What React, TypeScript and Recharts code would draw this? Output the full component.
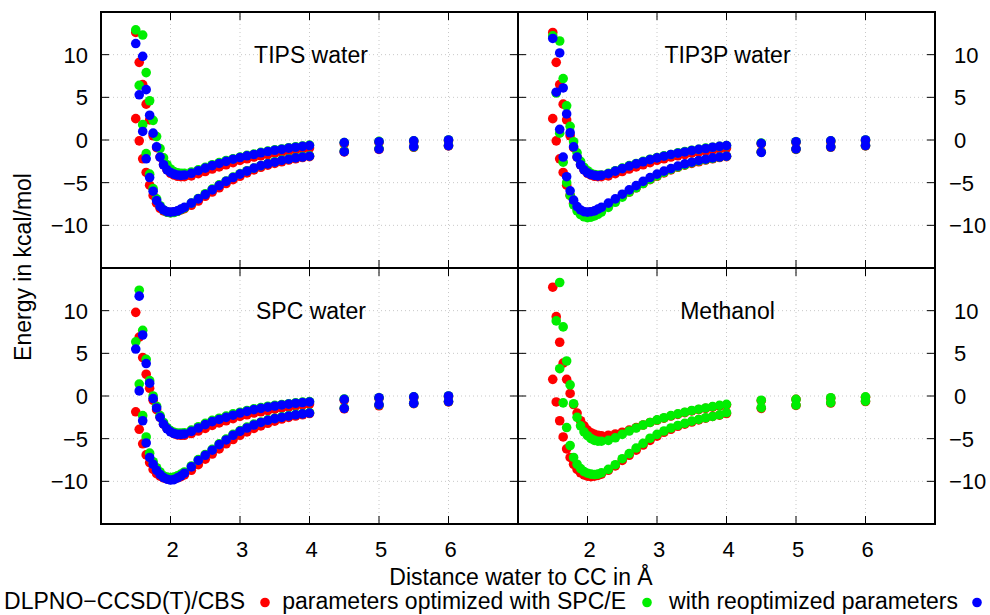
import React from 'react';
import { ScatterChart, Scatter, XAxis, YAxis, CartesianGrid, ReferenceArea } from 'recharts';

const FONT = '"Liberation Sans", Arial, Helvetica, sans-serif';
const RED = '#ff0000';
const GREEN = '#00ee00';
const BLUE = '#0000ff';

const X_TICKS = [2, 3, 4, 5, 6];
const Y_TICKS = [-10, -5, 0, 5, 10];

const LEGEND_LABELS = [
  'DLPNO\u2212CCSD(T)/CBS',
  'parameters optimized with SPC/E',
  'with reoptimized parameters',
];

// distance water to CC (Angstrom)
const DIST = [1.5, 1.55, 1.6, 1.65, 1.7, 1.75, 1.8, 1.85, 1.9, 1.95, 2.0, 2.05, 2.1, 2.15, 2.2, 2.3, 2.4, 2.5, 2.6, 2.7, 2.8, 2.9, 3.0, 3.1, 3.2, 3.3, 3.4, 3.5, 3.6, 3.7, 3.8, 3.9, 4.0, 4.5, 5.0, 5.5, 6.0];

// each scan has a shallow well (hi) and a deep well (lo)
// reference, same for TIPS and TIP3P panels
const WATER_REF_HI = [12.6, 9.1, 6.5, 4.2, 2.35, 0.5, -0.9, -2.0, -2.9, -3.5, -3.9, -4.1, -4.25, -4.3, -4.3, -4.2, -3.95, -3.7, -3.4, -3.15, -2.9, -2.65, -2.4, -2.2, -2.0, -1.85, -1.7, -1.55, -1.4, -1.3, -1.15, -1.05, -0.95, -0.45, -0.3, -0.2, -0.1];
const WATER_REF_LO = [2.5, -0.1, -2.2, -3.8, -5.3, -6.5, -7.4, -8.0, -8.3, -8.45, -8.5, -8.45, -8.35, -8.2, -8.05, -7.65, -7.15, -6.6, -6.1, -5.6, -5.1, -4.65, -4.25, -3.85, -3.5, -3.2, -2.95, -2.75, -2.55, -2.35, -2.2, -2.05, -1.95, -1.4, -1.1, -0.85, -0.7];

const TIPS_SPCE_HI = [null, null, 12.3, 7.9, 4.6, 2.3, 0.4, -1.0, -2.1, -2.9, -3.4, -3.7, -3.85, -3.9, -3.9, -3.75, -3.5, -3.2, -2.9, -2.65, -2.4, -2.2, -2.0, -1.8, -1.65, -1.45, -1.3, -1.15, -1.05, -0.9, -0.8, -0.7, -0.6, -0.3, -0.15, -0.1, 0.0];
const TIPS_SPCE_LO = [12.9, 6.4, 1.8, -1.6, -4.0, -5.7, -6.9, -7.7, -8.2, -8.45, -8.55, -8.5, -8.35, -8.15, -7.95, -7.4, -6.85, -6.3, -5.75, -5.25, -4.8, -4.35, -3.95, -3.6, -3.3, -3.0, -2.75, -2.55, -2.35, -2.2, -2.05, -1.95, -1.85, -1.3, -1.0, -0.8, -0.65];
const TIPS_REOPT_HI = [null, null, 9.8, 5.9, 2.9, 0.8, -0.8, -2.0, -2.9, -3.5, -3.8, -4.0, -4.1, -4.15, -4.1, -3.9, -3.6, -3.3, -3.0, -2.75, -2.5, -2.25, -2.05, -1.85, -1.7, -1.5, -1.35, -1.2, -1.1, -0.95, -0.85, -0.75, -0.65, -0.3, -0.2, -0.1, 0.0];
const TIPS_REOPT_LO = [11.3, 5.3, 1.0, -2.2, -4.4, -6.0, -7.1, -7.8, -8.2, -8.4, -8.45, -8.4, -8.3, -8.1, -7.9, -7.4, -6.9, -6.4, -5.85, -5.35, -4.85, -4.4, -4.0, -3.65, -3.3, -3.0, -2.8, -2.6, -2.4, -2.25, -2.1, -2.0, -1.9, -1.37, -1.06, -0.78, -0.67];

const TIP3P_SPCE_HI = [null, null, 11.6, 7.2, 4.0, 1.6, -0.2, -1.5, -2.5, -3.2, -3.6, -3.9, -4.05, -4.1, -4.1, -3.9, -3.6, -3.3, -3.0, -2.75, -2.5, -2.25, -2.05, -1.85, -1.7, -1.5, -1.35, -1.2, -1.1, -0.95, -0.85, -0.75, -0.65, -0.35, -0.2, -0.1, 0.0];
const TIP3P_SPCE_LO = [12.2, 5.5, 0.8, -2.6, -5.0, -6.5, -7.6, -8.3, -8.75, -9.0, -9.1, -9.05, -8.9, -8.7, -8.45, -7.9, -7.3, -6.7, -6.1, -5.6, -5.1, -4.6, -4.2, -3.8, -3.45, -3.15, -2.9, -2.65, -2.45, -2.3, -2.15, -2.0, -1.9, -1.42, -1.06, -0.8, -0.66];
const TIP3P_REOPT_HI = [null, null, 10.2, 6.1, 3.05, 0.85, -0.8, -2.0, -2.9, -3.5, -3.85, -4.05, -4.15, -4.2, -4.15, -3.95, -3.65, -3.35, -3.05, -2.8, -2.55, -2.3, -2.1, -1.9, -1.7, -1.55, -1.4, -1.25, -1.1, -1.0, -0.85, -0.75, -0.65, -0.4, -0.2, -0.1, 0.0];
const TIP3P_REOPT_LO = [11.9, 5.6, 1.25, -2.0, -4.3, -5.95, -7.05, -7.8, -8.2, -8.4, -8.45, -8.4, -8.3, -8.1, -7.9, -7.4, -6.9, -6.35, -5.85, -5.35, -4.85, -4.4, -4.0, -3.65, -3.35, -3.05, -2.8, -2.6, -2.4, -2.25, -2.1, -2.0, -1.9, -1.45, -1.05, -0.8, -0.65];

const SPC_REF_HI = [9.8, 6.9, 4.5, 2.55, 0.9, -0.5, -1.6, -2.5, -3.3, -3.8, -4.15, -4.4, -4.55, -4.6, -4.6, -4.4, -4.1, -3.8, -3.45, -3.15, -2.9, -2.65, -2.4, -2.2, -2.0, -1.85, -1.7, -1.55, -1.4, -1.3, -1.15, -1.05, -0.95, -0.5, -0.3, -0.2, -0.1];
const SPC_REF_LO = [-1.85, -3.9, -5.6, -6.9, -7.8, -8.6, -9.1, -9.4, -9.6, -9.7, -9.75, -9.7, -9.6, -9.45, -9.25, -8.7, -8.05, -7.4, -6.8, -6.2, -5.6, -5.1, -4.6, -4.2, -3.8, -3.5, -3.2, -2.95, -2.7, -2.5, -2.35, -2.2, -2.05, -1.5, -1.15, -0.9, -0.7];
const SPC_SPCE_HI = [null, 12.4, 7.7, 4.3, 1.8, 0.0, -1.2, -2.3, -3.1, -3.7, -4.05, -4.25, -4.35, -4.35, -4.3, -4.0, -3.6, -3.2, -2.85, -2.6, -2.35, -2.1, -1.9, -1.7, -1.5, -1.35, -1.2, -1.1, -1.0, -0.9, -0.8, -0.72, -0.65, -0.35, -0.2, -0.1, 0.0];
const SPC_SPCE_LO = [6.35, 1.4, -2.3, -4.8, -6.7, -7.7, -8.4, -8.9, -9.35, -9.5, -9.55, -9.5, -9.35, -9.15, -8.9, -8.2, -7.45, -6.85, -6.25, -5.6, -5.05, -4.5, -4.05, -3.65, -3.3, -3.05, -2.8, -2.6, -2.45, -2.3, -2.15, -2.05, -1.95, -1.4, -1.05, -0.85, -0.65];
const SPC_REOPT_HI = [null, 11.7, 7.15, 3.8, 1.5, -0.3, -1.4, -2.5, -3.3, -3.85, -4.2, -4.4, -4.5, -4.5, -4.45, -4.15, -3.75, -3.35, -3.0, -2.75, -2.5, -2.25, -2.0, -1.8, -1.6, -1.45, -1.3, -1.17, -1.05, -0.95, -0.85, -0.77, -0.7, -0.4, -0.2, -0.1, 0.0];
const SPC_REOPT_LO = [5.5, 0.6, -2.9, -5.5, -7.2, -8.0, -8.7, -9.2, -9.55, -9.75, -9.85, -9.8, -9.6, -9.35, -9.05, -8.3, -7.55, -6.95, -6.35, -5.7, -5.15, -4.6, -4.15, -3.75, -3.4, -3.1, -2.85, -2.65, -2.5, -2.35, -2.2, -2.1, -2.0, -1.45, -1.02, -0.85, -0.65];

const METH_REF_HI = [12.75, 9.3, 6.3, 3.85, 1.95, 0.3, -1.0, -2.0, -2.9, -3.5, -4.0, -4.3, -4.5, -4.6, -4.65, -4.6, -4.45, -4.25, -4.0, -3.7, -3.4, -3.1, -2.85, -2.6, -2.35, -2.15, -1.95, -1.75, -1.6, -1.45, -1.3, -1.15, -1.05, -0.55, -0.4, -0.25, -0.15];
const METH_REF_LO = [1.95, -0.7, -2.9, -4.8, -6.2, -7.2, -8.0, -8.6, -9.0, -9.25, -9.4, -9.45, -9.4, -9.3, -9.15, -8.7, -8.2, -7.55, -6.95, -6.35, -5.75, -5.2, -4.7, -4.25, -3.9, -3.55, -3.3, -3.05, -2.8, -2.6, -2.4, -2.25, -2.05, -1.45, -1.1, -0.82, -0.65];
const METH_SPCE_HI = [null, null, 13.3, 8.1, 4.1, 1.3, -0.9, -2.5, -3.5, -4.2, -4.65, -5.0, -5.2, -5.3, -5.3, -5.2, -4.9, -4.5, -4.1, -3.75, -3.4, -3.1, -2.8, -2.55, -2.3, -2.1, -1.9, -1.7, -1.55, -1.4, -1.25, -1.1, -0.98, -0.5, -0.4, -0.2, -0.1];
const METH_SPCE_LO = [null, 8.8, 3.2, -0.8, -3.7, -5.8, -7.2, -8.0, -8.5, -8.85, -9.05, -9.15, -9.2, -9.15, -9.0, -8.6, -8.05, -7.35, -6.75, -6.1, -5.55, -4.95, -4.5, -4.1, -3.75, -3.45, -3.2, -2.95, -2.75, -2.55, -2.4, -2.2, -1.95, -1.37, -1.06, -0.78, -0.6];

const PLOT_W = 417;
const PLOT_H = 256;
const TOP = 12;
const TICK = 8;
const DOT_R = 4.8;

type Pt = { x: number; y: number };

function points(hi: (number | null)[], lo: (number | null)[]): Pt[] {
  const out: Pt[] = [];
  DIST.forEach((x, i) => {
    if (hi[i] != null) out.push({ x, y: hi[i] as number });
    if (lo[i] != null) out.push({ x, y: lo[i] as number });
  });
  return out;
}

type Series = { color: string; hi: (number | null)[]; lo: (number | null)[] };

function Panel({ left, top, side, showX, series }: { left: number; top: number; side: 'left' | 'right'; showX: boolean; series: Series[] }) {
  const axisW = side === 'left' ? 101 : 55;
  const plotL = side === 'left' ? 101 : 0;
  const plotR = plotL + PLOT_W;
  const plotB = TOP + PLOT_H;
  const xAxisH = showX ? 48 : 2;
  const width = side === 'left' ? axisW + PLOT_W + 2 : PLOT_W + axisW;
  const height = TOP + PLOT_H + xAxisH;

  const xTick = (p: any) => (
    <g>
      <line x1={p.x} x2={p.x} y1={plotB} y2={plotB - TICK} stroke="#000" />
      <line x1={p.x} x2={p.x} y1={TOP} y2={TOP + TICK} stroke="#000" />
      {showX && (
        <text x={p.x + 2} y={plotB + 33} textAnchor="middle" fontSize={22} fontFamily={FONT} fill="#000">
          {p.payload.value}
        </text>
      )}
    </g>
  );

  const yTick = (p: any) => {
    const v = p.payload.value;
    const lbl = v < 0 ? '\u2212' + Math.abs(v) : String(v);
    return (
      <g>
        <line x1={plotL} x2={plotL + TICK} y1={p.y} y2={p.y} stroke="#000" />
        <line x1={plotR} x2={plotR - TICK} y1={p.y} y2={p.y} stroke="#000" />
        <text
          x={side === 'left' ? plotL - 13 : plotR + (v < 0 ? 14 : 19)}
          y={p.y + 8}
          textAnchor={side === 'left' ? 'end' : 'start'}
          fontSize={22}
          fontFamily={FONT}
          fill="#000"
        >
          {lbl}
        </text>
      </g>
    );
  };

  return (
    <div style={{ position: 'absolute', left, top }}>
      <ScatterChart width={width} height={height} margin={{ top: TOP, right: side === 'left' ? 2 : 0, bottom: 0, left: 0 }}>
        <CartesianGrid stroke="#c8c8c8" strokeDasharray="1 3" />
        <XAxis type="number" dataKey="x" domain={[1, 7]} ticks={X_TICKS} interval={0} allowDataOverflow
          axisLine={false} tickLine={false} tick={xTick} height={xAxisH} />
        <YAxis type="number" dataKey="y" domain={[-15, 15]} ticks={Y_TICKS} interval={0} allowDataOverflow
          orientation={side} axisLine={false} tickLine={false} tick={yTick} width={axisW} />
        {series.map((s, i) => (
          <Scatter
            key={i}
            data={points(s.hi, s.lo)}
            fill={s.color}
            isAnimationActive={false}
            shape={(p: any) => <circle cx={p.cx} cy={p.cy} r={DOT_R} fill={s.color} />}
          />
        ))}
        <ReferenceArea x1={1} x2={7} y1={-15} y2={15} fill="none" fillOpacity={0} stroke="#000" strokeWidth={2} ifOverflow="visible" />
      </ScatterChart>
    </div>
  );
}

export default function App() {
  const txt = { fontFamily: FONT, fontSize: 23, fill: '#000' };
  return (
    <div style={{ position: 'absolute', left: 0, top: 0, width: 990, height: 615, background: '#fff' }}>
      <Panel left={0} top={0} side="left" showX={false} series={[
        { color: RED, hi: WATER_REF_HI, lo: WATER_REF_LO },
        { color: GREEN, hi: TIPS_SPCE_HI, lo: TIPS_SPCE_LO },
        { color: BLUE, hi: TIPS_REOPT_HI, lo: TIPS_REOPT_LO },
      ]} />
      <Panel left={518} top={0} side="right" showX={false} series={[
        { color: RED, hi: WATER_REF_HI, lo: WATER_REF_LO },
        { color: GREEN, hi: TIP3P_SPCE_HI, lo: TIP3P_SPCE_LO },
        { color: BLUE, hi: TIP3P_REOPT_HI, lo: TIP3P_REOPT_LO },
      ]} />
      <Panel left={0} top={256} side="left" showX={true} series={[
        { color: RED, hi: SPC_REF_HI, lo: SPC_REF_LO },
        { color: GREEN, hi: SPC_SPCE_HI, lo: SPC_SPCE_LO },
        { color: BLUE, hi: SPC_REOPT_HI, lo: SPC_REOPT_LO },
      ]} />
      <Panel left={518} top={256} side="right" showX={true} series={[
        { color: RED, hi: METH_REF_HI, lo: METH_REF_LO },
        { color: GREEN, hi: METH_SPCE_HI, lo: METH_SPCE_LO },
      ]} />
      <svg width={990} height={615} style={{ position: 'absolute', left: 0, top: 0, pointerEvents: 'none' }}>
        <text x={311} y={63} textAnchor="middle" {...txt}>TIPS water</text>
        <text x={727.5} y={63} textAnchor="middle" {...txt}>TIP3P water</text>
        <text x={311} y={319} textAnchor="middle" {...txt}>SPC water</text>
        <text x={727.5} y={319} textAnchor="middle" {...txt}>Methanol</text>
        <text transform="translate(31,267) rotate(-90)" textAnchor="middle" {...txt}>Energy in kcal/mol</text>
        <text x={521} y={585} textAnchor="middle" {...txt}>Distance water to CC in Å</text>
        <text x={245} y={609} textAnchor="end" {...txt}>{LEGEND_LABELS[0]}</text>
        <circle cx={265} cy={602.5} r={DOT_R} fill={RED} />
        <text x={626} y={609} textAnchor="end" {...txt}>{LEGEND_LABELS[1]}</text>
        <circle cx={647} cy={602.5} r={DOT_R} fill={GREEN} />
        <text x={958} y={609} textAnchor="end" {...txt}>{LEGEND_LABELS[2]}</text>
        <circle cx={977} cy={602.5} r={DOT_R} fill={BLUE} />
      </svg>
    </div>
  );
}
